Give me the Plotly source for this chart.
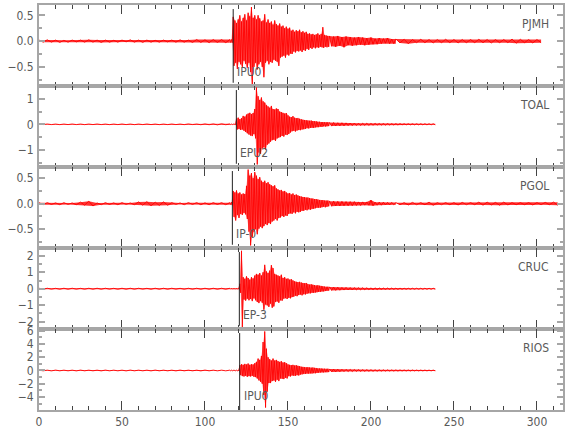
import numpy as np
import plotly.graph_objects as go
from plotly.subplots import make_subplots

# ---------------- data ----------------
stations = ["PJMH", "TOAL", "PGOL", "CRUC", "RIOS"]
pick_names = ["IPU0", "EPU2", "IP-0", "EP-3", "IPU0"]
pick_times = [117.0, 118.9, 116.5, 120.7, 120.9]

x_ticks = [0, 50, 100, 150, 200, 250, 300]

# y-axis ranges / tick steps for each panel
y_ranges = [[-0.87, 0.70], [-1.67, 1.50], [-0.87, 0.72], [-2.44, 2.47], [-5.97, 6.27]]
y_dticks = [0.5, 1, 0.5, 1, 2]
y_minor = [0.25, 0.5, 0.25, 0.5, 1]
y_formats = [".1f", "d", ".1f", "d", "d"]

# sampling bins (start, stop, step in seconds); each bin stores max and min amplitude
PJMH_grid = [(0, 115, 5), (115, 175, 1), (175, 215, 2.5), (215, 305, 5)]
PJMH_hi = [0.02, 0.025, 0.02, 0.015, 0.02, 0.02, 0.025, 0.02, 0.02, 0.015, 0.02, 0.025,
           0.02, 0.02, 0.015, 0.02, 0.02, 0.025, 0.02, 0.03, 0.025, 0.03, 0.03,
           0.03, 0.03, 0.47, 0.40, 0.35, 0.42, 0.50, 0.38, 0.45, 0.52,
           0.40, 0.55, 0.48, 0.66, 0.45, 0.50, 0.42, 0.50, 0.44, 0.38,
           0.40, 0.52, 0.36, 0.42, 0.35, 0.38, 0.32, 0.40, 0.33, 0.30,
           0.34, 0.28, 0.30, 0.25, 0.28, 0.24, 0.26, 0.20, 0.22, 0.18,
           0.21, 0.19, 0.22, 0.17, 0.19, 0.16, 0.18, 0.14, 0.15, 0.13,
           0.14, 0.12, 0.13, 0.15, 0.12, 0.14, 0.27, 0.12, 0.11, 0.10,
           0.10, 0.09, 0.10, 0.08, 0.09, 0.08, 0.07, 0.08, 0.07, 0.06, 0.07, 0.05, 0.06, 0.05, 0.06, 0.04,
           0.04, 0.035, 0.03, 0.035, 0.03, 0.03, 0.035, 0.03, 0.03, 0.03, 0.035, 0.03, 0.03, 0.03,
           0.04, 0.035, 0.03, 0.03]
PJMH_lo = [-0.02, -0.02, -0.025, -0.02, -0.015, -0.02, -0.02, -0.025, -0.02, -0.02, -0.015, -0.02,
           -0.025, -0.02, -0.02, -0.015, -0.02, -0.02, -0.025, -0.025, -0.03, -0.025, -0.03,
           -0.03, -0.03, -0.48, -0.42, -0.54, -0.40, -0.45, -0.50, -0.38, -0.44,
           -0.52, -0.42, -0.60, -0.84, -0.50, -0.42, -0.55, -0.45, -0.40, -0.50,
           -0.70, -0.42, -0.38, -0.45, -0.40, -0.42, -0.36, -0.38, -0.40, -0.48,
           -0.32, -0.30, -0.28, -0.32, -0.26, -0.28, -0.24, -0.25, -0.20, -0.22,
           -0.19, -0.20, -0.18, -0.21, -0.17, -0.19, -0.15, -0.17, -0.13, -0.15,
           -0.12, -0.14, -0.12, -0.13, -0.11, -0.12, -0.13, -0.11, -0.12, -0.11,
           -0.10, -0.11, -0.09, -0.12, -0.08, -0.09, -0.08, -0.07, -0.08, -0.07, -0.06, -0.06, -0.05, -0.04, -0.05, -0.05,
           -0.035, -0.05, -0.03, -0.03, -0.035, -0.03, -0.03, -0.035, -0.03, -0.03, -0.03, -0.035, -0.03, -0.03,
           -0.04, -0.03, -0.035, -0.03]

TOAL_grid = [(0, 115, 5), (115, 175, 1), (175, 240, 2.5)]
TOAL_hi = [0.01, 0.012, 0.01, 0.01, 0.012, 0.01, 0.01, 0.012, 0.01, 0.01, 0.012, 0.01,
           0.01, 0.012, 0.01, 0.01, 0.012, 0.01, 0.015, 0.01, 0.015, 0.015, 0.02,
           0.01, 0.01, 0.015, 0.01, 0.22, 0.26, 0.20, 0.24, 0.33, 0.30,
           0.38, 0.42, 0.45, 0.40, 0.44, 0.60, 1.44, 1.10, 0.95, 1.05,
           0.90, 0.85, 0.75, 0.70, 0.65, 0.72, 0.60, 0.58, 0.62, 0.60,
           0.50, 0.48, 0.45, 0.42, 0.44, 0.35, 0.30, 0.28, 0.32, 0.26,
           0.24, 0.25, 0.22, 0.20, 0.18, 0.17, 0.16, 0.15, 0.14, 0.15,
           0.13, 0.12, 0.12, 0.10, 0.10, 0.09, 0.09, 0.08, 0.08, 0.08,
           0.07, 0.07, 0.06, 0.06, 0.055, 0.05, 0.05, 0.045, 0.04, 0.04, 0.035, 0.035, 0.03,
           0.03, 0.03, 0.025, 0.025, 0.025, 0.02, 0.02, 0.02, 0.02, 0.02, 0.02, 0.02, 0.02]
TOAL_lo = [-0.01, -0.01, -0.012, -0.01, -0.01, -0.012, -0.01, -0.01, -0.012, -0.01, -0.01, -0.012,
           -0.01, -0.01, -0.012, -0.01, -0.01, -0.012, -0.01, -0.015, -0.015, -0.02, -0.015,
           -0.01, -0.01, -0.01, -0.015, -0.20, -0.18, -0.22, -0.20, -0.25, -0.30,
           -0.35, -0.40, -0.44, -0.46, -0.38, -0.55, -1.57, -1.10, -1.15, -0.95,
           -0.90, -1.00, -0.80, -0.75, -0.68, -0.62, -0.60, -0.65, -0.55, -0.52,
           -0.50, -0.45, -0.48, -0.40, -0.42, -0.38, -0.32, -0.27, -0.25, -0.28,
           -0.24, -0.22, -0.23, -0.20, -0.19, -0.18, -0.15, -0.16, -0.14, -0.13,
           -0.14, -0.12, -0.11, -0.11, -0.09, -0.10, -0.08, -0.09, -0.08, -0.07,
           -0.07, -0.065, -0.06, -0.06, -0.05, -0.05, -0.045, -0.045, -0.04, -0.04, -0.035, -0.03, -0.03,
           -0.03, -0.025, -0.025, -0.025, -0.02, -0.02, -0.02, -0.02, -0.02, -0.02, -0.02, -0.02, -0.02]

PGOL_grid = [(0, 115, 5), (115, 175, 1), (175, 215, 2.5), (215, 315, 5)]
PGOL_hi = [0.02, 0.02, 0.015, 0.02, 0.015, 0.03, 0.05, 0.015, 0.02, 0.015, 0.02, 0.015,
           0.035, 0.04, 0.03, 0.035, 0.02, 0.015, 0.02, 0.02, 0.015, 0.02, 0.02,
           0.02, 0.03, 0.25, 0.22, 0.26, 0.20, 0.22, 0.18, 0.20, 0.19,
           0.35, 0.67, 0.55, 0.60, 0.50, 0.62, 0.55, 0.48, 0.52, 0.45,
           0.42, 0.45, 0.40, 0.42, 0.38, 0.36, 0.34, 0.36, 0.30, 0.28,
           0.26, 0.27, 0.24, 0.25, 0.22, 0.20, 0.21, 0.18, 0.20, 0.17,
           0.18, 0.16, 0.15, 0.14, 0.13, 0.13, 0.12, 0.12, 0.11, 0.10,
           0.10, 0.09, 0.09, 0.08, 0.07, 0.07, 0.07, 0.06, 0.06, 0.06,
           0.05, 0.05, 0.045, 0.045, 0.04, 0.04, 0.04, 0.035, 0.035, 0.035, 0.07, 0.03, 0.03, 0.03, 0.025, 0.025,
           0.02, 0.02, 0.025, 0.02, 0.03, 0.02, 0.02, 0.02, 0.025, 0.02, 0.03, 0.03, 0.025, 0.03,
           0.02, 0.02, 0.02, 0.02, 0.025, 0.03]
PGOL_lo = [-0.02, -0.015, -0.02, -0.015, -0.02, -0.03, -0.045, -0.02, -0.015, -0.02, -0.015, -0.02,
           -0.03, -0.04, -0.035, -0.03, -0.015, -0.02, -0.015, -0.02, -0.02, -0.015, -0.02,
           -0.02, -0.03, -0.26, -0.33, -0.22, -0.28, -0.20, -0.22, -0.18, -0.21,
           -0.30, -0.55, -0.82, -0.65, -0.55, -0.50, -0.60, -0.49, -0.45, -0.48,
           -0.44, -0.40, -0.42, -0.38, -0.40, -0.35, -0.33, -0.30, -0.33, -0.28,
           -0.27, -0.24, -0.26, -0.23, -0.24, -0.20, -0.19, -0.20, -0.17, -0.19,
           -0.16, -0.17, -0.16, -0.14, -0.14, -0.12, -0.13, -0.11, -0.12, -0.10,
           -0.10, -0.09, -0.08, -0.08, -0.08, -0.07, -0.06, -0.07, -0.06, -0.05,
           -0.05, -0.045, -0.045, -0.04, -0.04, -0.04, -0.035, -0.035, -0.03, -0.03, -0.04, -0.03, -0.03, -0.025, -0.025, -0.02,
           -0.02, -0.025, -0.02, -0.02, -0.03, -0.02, -0.02, -0.025, -0.02, -0.02, -0.03, -0.025, -0.03, -0.025,
           -0.02, -0.02, -0.025, -0.02, -0.02, -0.03]

CRUC_grid = [(0, 115, 5), (115, 175, 1), (175, 240, 2.5)]
CRUC_hi = [0.03, 0.03, 0.025, 0.03, 0.03, 0.025, 0.03, 0.03, 0.03, 0.025, 0.03, 0.03,
           0.03, 0.025, 0.03, 0.03, 0.03, 0.025, 0.03, 0.03, 0.03, 0.03, 0.03,
           0.03, 0.03, 0.03, 0.03, 0.03, 0.03, 0.30, 2.30, 0.70, 0.60,
           0.75, 0.65, 0.55, 0.70, 0.62, 0.80, 0.90, 0.85, 0.95, 0.80,
           1.00, 1.45, 1.05, 0.95, 1.10, 1.43, 1.25, 0.90, 0.85, 0.80,
           0.75, 0.85, 0.65, 0.70, 0.60, 0.62, 0.55, 0.58, 0.50, 0.45,
           0.42, 0.40, 0.42, 0.38, 0.35, 0.33, 0.35, 0.28, 0.25, 0.27,
           0.24, 0.22, 0.20, 0.21, 0.18, 0.17, 0.15, 0.13, 0.12, 0.12,
           0.11, 0.10, 0.09, 0.08, 0.08, 0.07, 0.065, 0.06, 0.06, 0.055, 0.05, 0.05, 0.045,
           0.04, 0.04, 0.04, 0.035, 0.035, 0.03, 0.03, 0.03, 0.03, 0.03, 0.03, 0.03, 0.03]
CRUC_lo = [-0.03, -0.025, -0.03, -0.03, -0.025, -0.03, -0.03, -0.03, -0.025, -0.03, -0.03, -0.03,
           -0.025, -0.03, -0.03, -0.03, -0.025, -0.03, -0.03, -0.03, -0.03, -0.03, -0.03,
           -0.03, -0.03, -0.03, -0.03, -0.03, -0.03, -0.25, -2.35, -0.65, -0.72,
           -0.60, -0.70, -0.62, -0.75, -0.58, -0.70, -0.80, -0.87, -0.75, -0.85,
           -1.27, -0.95, -1.00, -1.10, -0.90, -1.15, -1.07, -0.80, -0.77, -0.85,
           -0.70, -0.72, -0.60, -0.57, -0.62, -0.55, -0.58, -0.50, -0.48, -0.42,
           -0.45, -0.38, -0.35, -0.40, -0.33, -0.35, -0.30, -0.27, -0.28, -0.24,
           -0.25, -0.23, -0.21, -0.19, -0.19, -0.16, -0.16, -0.14, -0.13, -0.11,
           -0.10, -0.10, -0.09, -0.08, -0.07, -0.07, -0.06, -0.06, -0.055, -0.05, -0.05, -0.045, -0.04,
           -0.04, -0.04, -0.035, -0.035, -0.03, -0.03, -0.03, -0.03, -0.03, -0.03, -0.03, -0.03, -0.03]

RIOS_grid = [(0, 115, 5), (115, 175, 1), (175, 240, 2.5)]
RIOS_hi = [0.05, 0.05, 0.06, 0.05, 0.05, 0.06, 0.05, 0.05, 0.06, 0.05, 0.05, 0.06,
           0.05, 0.05, 0.06, 0.05, 0.05, 0.06, 0.05, 0.05, 0.06, 0.05, 0.05,
           0.05, 0.05, 0.05, 0.05, 0.05, 0.05, 0.80, 0.95, 0.85, 1.00,
           0.90, 1.05, 0.85, 0.95, 0.90, 1.10, 1.30, 1.80, 1.60, 2.20,
           4.30, 5.90, 3.30, 2.00, 1.70, 1.50, 1.80, 1.50, 1.60, 1.40,
           1.30, 1.40, 1.20, 1.25, 1.10, 0.90, 0.85, 0.80, 0.85, 0.75,
           0.80, 0.70, 0.65, 0.55, 0.52, 0.50, 0.48, 0.50, 0.45, 0.42,
           0.45, 0.40, 0.38, 0.32, 0.30, 0.31, 0.28, 0.27, 0.25, 0.26,
           0.22, 0.20, 0.19, 0.17, 0.16, 0.15, 0.14, 0.13, 0.12, 0.12, 0.11, 0.10, 0.10,
           0.09, 0.09, 0.08, 0.08, 0.08, 0.07, 0.07, 0.07, 0.06, 0.06, 0.06, 0.06, 0.06]
RIOS_lo = [-0.05, -0.06, -0.05, -0.05, -0.06, -0.05, -0.05, -0.06, -0.05, -0.05, -0.06, -0.05,
           -0.05, -0.06, -0.05, -0.05, -0.06, -0.05, -0.05, -0.06, -0.05, -0.05, -0.05,
           -0.05, -0.05, -0.05, -0.05, -0.05, -0.05, -0.70, -0.85, -0.90, -0.80,
           -0.95, -0.85, -0.90, -0.80, -0.95, -1.00, -1.20, -1.50, -1.70, -2.00,
           -3.70, -5.60, -3.20, -1.90, -1.90, -1.60, -1.50, -1.70, -1.40, -1.60,
           -1.20, -1.25, -1.30, -1.10, -1.20, -0.85, -0.90, -0.75, -0.80, -0.80,
           -0.70, -0.75, -0.62, -0.58, -0.50, -0.52, -0.45, -0.48, -0.44, -0.45,
           -0.40, -0.42, -0.36, -0.34, -0.31, -0.28, -0.30, -0.26, -0.27, -0.24,
           -0.21, -0.20, -0.18, -0.17, -0.15, -0.15, -0.13, -0.13, -0.12, -0.11, -0.11, -0.10, -0.09,
           -0.09, -0.08, -0.08, -0.08, -0.07, -0.07, -0.07, -0.06, -0.06, -0.06, -0.06, -0.06, -0.06]

grids = [PJMH_grid, TOAL_grid, PGOL_grid, CRUC_grid, RIOS_grid]
his = [PJMH_hi, TOAL_hi, PGOL_hi, CRUC_hi, RIOS_hi]
los = [PJMH_lo, TOAL_lo, PGOL_lo, CRUC_lo, RIOS_lo]


def segments(grid, hi, lo):
    """split the bins into the grid segments: (step, starts, his, los)"""
    out, k = [], 0
    for a, b, d in grid:
        st = [float(t) for t in np.arange(a, b, d)]
        n = min(len(st), len(hi) - k)
        if n <= 0:
            break
        out.append((d, st[:n], hi[k:k + n], lo[k:k + n]))
        k += n
    return out


def trace_xy(grid, hi, lo):
    """min/max decimated trace: max at bin start, min half a bin later"""
    xs, ys = [], []
    for d, st, hh, ll in segments(grid, hi, lo):
        for t, h, l in zip(st, hh, ll):
            xs += [t, t + d / 2.0]
            ys += [h, l]
    return xs, ys


# ---------------- figure ----------------
FONT = "Liberation Sans Narrow, DejaVu Sans Condensed, Arial Narrow, sans-serif"
FRAME = "#a6a6a6"
TEXT = "#5a5a5a"

fig = make_subplots(rows=5, cols=1, shared_xaxes=True, vertical_spacing=0)

for i in range(5):
    segs = segments(grids[i], his[i], los[i])
    # envelope band per segment (quiet parts drawn denser)
    for j, (d, st, hh, ll) in enumerate(segs):
        last = j == len(segs) - 1
        end = st[-1] + (d / 2.0 if last else d)
        bx = st + [end] + [end] + [t + d / 2.0 for t in st][::-1]
        by = list(hh) + [hh[-1]] + [ll[-1]] + list(ll)[::-1]
        alpha = 0.45 if d < 2 else 0.8
        fig.add_trace(go.Scatter(x=bx, y=by, mode="lines", fill="toself",
                                 fillcolor=f"rgba(255,0,0,{alpha})",
                                 line=dict(width=0, color="rgba(255,0,0,0)"),
                                 hoverinfo="skip", showlegend=False),
                      row=i + 1, col=1)
    xs, ys = trace_xy(grids[i], his[i], los[i])
    fig.add_trace(go.Scatter(x=xs, y=ys, mode="lines",
                             line=dict(color="#ff0000", width=0.9),
                             hoverinfo="skip", showlegend=False),
                  row=i + 1, col=1)

    xa = "x" if i == 0 else f"x{i + 1}"
    ya = "y" if i == 0 else f"y{i + 1}"

    # pick marker
    y0 = 0.0 if i == 4 else 0.04
    fig.add_shape(type="line", xref=xa, yref=f"{ya} domain",
                  x0=pick_times[i], x1=pick_times[i], y0=y0, y1=0.95,
                  line=dict(color="#222222", width=1), layer="above")
    fig.add_annotation(xref=xa, yref=f"{ya} domain", x=pick_times[i], y=0.17,
                       text=pick_names[i], showarrow=False, xanchor="left",
                       yanchor="middle", xshift=2,
                       font=dict(family=FONT, size=12, color=TEXT))
    # station name
    fig.add_annotation(xref=f"{xa} domain", yref=f"{ya} domain", x=0.977, y=0.77,
                       text=stations[i], showarrow=False, xanchor="right",
                       yanchor="middle",
                       font=dict(family=FONT, size=12, color=TEXT))

    fig.update_yaxes(row=i + 1, col=1, range=y_ranges[i], dtick=y_dticks[i],
                     tick0=0, tickformat=y_formats[i], automargin=False,
                     showgrid=False, zeroline=False,
                     showline=True, linecolor=FRAME, linewidth=2, mirror="ticks",
                     ticks="inside", ticklen=6, tickwidth=2, tickcolor=FRAME,
                     minor=dict(ticks="inside", dtick=y_minor[i], tick0=0,
                                ticklen=3, tickwidth=2, tickcolor=FRAME),
                     tickfont=dict(family=FONT, size=12, color=TEXT),
                     ticklabelstandoff=1)
    fig.update_xaxes(row=i + 1, col=1, range=[0, 315.7], tickvals=x_ticks,
                     automargin=False,
                     showgrid=False, zeroline=False,
                     showline=True, linecolor=FRAME, linewidth=1.5, mirror="ticks",
                     ticks="inside", ticklen=9, tickwidth=1, tickcolor="#444444",
                     minor=dict(ticks="inside", dtick=10, tick0=0, ticklen=4,
                                tickwidth=1, tickcolor="#444444"),
                     tickfont=dict(family=FONT, size=12, color=TEXT))

fig.update_layout(width=580, height=440,
                  margin=dict(l=39, r=17, t=5, b=30, autoexpand=False),
                  paper_bgcolor="white", plot_bgcolor="white",
                  showlegend=False)

fig.write_html("out.html", config={"displayModeBar": False},
               post_script="document.body.style.margin='0';document.body.style.padding='0';")
